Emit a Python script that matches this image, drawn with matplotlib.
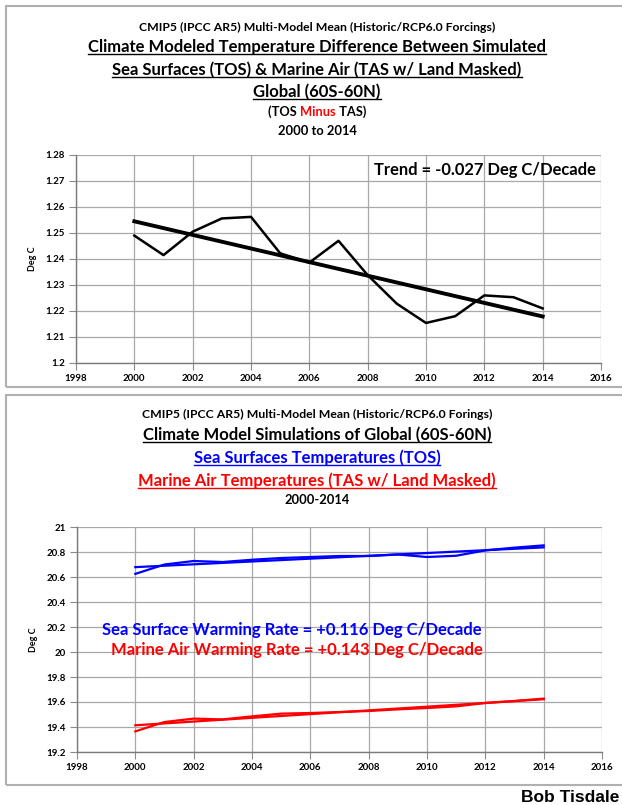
import numpy as np
import matplotlib
matplotlib.use('Agg')
import matplotlib.pyplot as plt
from matplotlib.lines import Line2D
from matplotlib.patches import Rectangle

plt.rcParams['font.family'] = ['Lato', 'DejaVu Sans']
plt.rcParams['font.weight'] = 'bold'

# data
years = np.arange(2000, 2015)
tos_minus_tas = [1.249, 1.2415, 1.2505, 1.2556, 1.2562, 1.2422, 1.2386, 1.247,
                 1.2338, 1.2228, 1.2154, 1.218, 1.226, 1.2253, 1.221]
tos = [20.625, 20.70, 20.728, 20.72, 20.738, 20.752, 20.76, 20.768,
       20.768, 20.78, 20.76, 20.77, 20.813, 20.835, 20.853]
tas = [19.365, 19.44, 19.467, 19.461, 19.485, 19.507, 19.512, 19.52,
       19.528, 19.541, 19.552, 19.565, 19.592, 19.608, 19.627]

top_ticks = [1.2, 1.21, 1.22, 1.23, 1.24, 1.25, 1.26, 1.27, 1.28]
bot_ticks = [19.2, 19.4, 19.6, 19.8, 20, 20.2, 20.4, 20.6, 20.8, 21]
x_ticks = list(range(1998, 2017, 2))

W, H = 622, 805
fig = plt.figure(figsize=(W / 100, H / 100), dpi=100)
fig.patch.set_facecolor('white')


def fx(x):
    return x / W


def fy(y):
    return 1 - y / H


# panel borders
for (x0, y0, x1, y1) in [(6, 6, 640, 387), (6, 395, 640, 785)]:
    fig.add_artist(Rectangle((fx(x0), fy(y1)), fx(x1 - x0), (y1 - y0) / H,
                             transform=fig.transFigure, fill=False,
                             edgecolor='#b0b0b0', lw=1.5))


def style_axes(ax, ticks, ylim):
    ax.set_xlim(1998, 2016)
    ax.set_ylim(*ylim)
    ax.set_xticks(x_ticks)
    ax.set_yticks(ticks)
    ax.set_yticklabels(['%g' % t for t in ticks])
    ax.grid(True, color='#a8a8a8', lw=0.9)
    ax.set_axisbelow(True)
    for s in ['top', 'right']:
        ax.spines[s].set_visible(False)
    for s in ['left', 'bottom']:
        ax.spines[s].set_color('#7a7a7a')
        ax.spines[s].set_linewidth(1.0)
    ax.tick_params(labelsize=7, length=5, color='#8a8a8a', pad=3)
    for lab in ax.get_xticklabels() + ax.get_yticklabels():
        lab.set_fontweight('bold')
    ax.set_ylabel('Deg C', fontsize=6.5, fontweight='bold', labelpad=6)


ax1 = fig.add_axes([fx(76), fy(363), (601 - 76) / W, (363 - 155) / H])
style_axes(ax1, top_ticks, (1.2, 1.28))
ax1.plot(years, tos_minus_tas, color='black', lw=1.8)
c = np.polyfit(years, tos_minus_tas, 1)
ax1.plot(years, np.polyval(c, years), color='black', lw=2.8)
ax1.text(0.99, 0.93, 'Trend = -0.027 Deg C/Decade', transform=ax1.transAxes,
         ha='right', va='center', fontsize=11.9, fontweight='bold')

ax2 = fig.add_axes([fx(77), fy(752), (602 - 77) / W, (752 - 527) / H])
style_axes(ax2, bot_ticks, (19.2, 21))
ax2.plot(years, tos, color='#0000ff', lw=1.6)
c = np.polyfit(years, tos, 1)
ax2.plot(years, np.polyval(c, years), color='#0000ff', lw=1.6)
ax2.plot(years, tas, color='#ff0000', lw=1.6)
c = np.polyfit(years, tas, 1)
ax2.plot(years, np.polyval(c, years), color='#ff0000', lw=1.6)
fig.text(fx(292), fy(630), 'Sea Surface Warming Rate = +0.116 Deg C/Decade',
         ha='center', va='center', fontsize=12, color='#0000ff')
fig.text(fx(297), fy(650), 'Marine Air Warming Rate = +0.143 Deg C/Decade',
         ha='center', va='center', fontsize=12, color='#ff0000')

CX = 317
underlined = []


def title(y, s, size, color='black', ul=False):
    t = fig.text(fx(CX), fy(y), s, ha='center', va='center', fontsize=size,
                 color=color)
    if ul:
        underlined.append(t)
    return t


title(27, 'CMIP5 (IPCC AR5) Multi-Model Mean (Historic/RCP6.0 Forcings)', 8.8)
title(47, 'Climate Modeled Temperature Difference Between Simulated', 12, ul=True)
title(70, 'Sea Surfaces (TOS) & Marine Air (TAS w/ Land Masked)', 12, ul=True)
title(92, 'Global (60S-60N)', 12, ul=True)
title(131, '2000 to 2014', 9.3)

title(414, 'CMIP5 (IPCC AR5) Multi-Model Mean (Historic/RCP6.0 Forings)', 8.8)
title(435, 'Climate Model Simulations of Global (60S-60N)', 12, ul=True)
title(458, 'Sea Surfaces Temperatures (TOS)', 12, color='#0000ff', ul=True)
title(481, 'Marine Air Temperatures (TAS w/ Land Masked)', 12, color='#ff0000', ul=True)
title(500, '2000-2014', 9.3)

fig.text(fx(521), fy(797), 'Bob Tisdale', ha='left', va='center',
         fontsize=12.5, family=['Liberation Sans', 'DejaVu Sans'])

# "(TOS Minus TAS)" with the middle word in red
fig.canvas.draw()
r = fig.canvas.get_renderer()
fs = 9.3
parts = [('(TOS ', 'black'), ('Minus', '#ff0000'), (' TAS)', 'black')]
tmp = []
widths = []
for s, col in parts:
    t = fig.text(0, 0, s, fontsize=fs)
    widths.append(t.get_window_extent(r).width)
    tmp.append(t)
for t in tmp:
    t.remove()
full = fig.text(0, 0, '(TOS Minus TAS)', fontsize=fs)
total = full.get_window_extent(r).width
full.remove()
sp = (total - sum(widths)) / 2
x = CX - total / 2
for (s, col), w in zip(parts, widths):
    fig.text(fx(x), fy(112), s, ha='left', va='center', fontsize=fs, color=col)
    x += w + sp

fig.canvas.draw()
for t in underlined:
    bb = t.get_window_extent(r)
    yy = bb.y0 + 1
    fig.add_artist(Line2D([bb.x0 / W, bb.x1 / W], [yy / H, yy / H],
                          transform=fig.transFigure, color=t.get_color(), lw=1.0))

fig.savefig('out.png', dpi=100, facecolor='white')
